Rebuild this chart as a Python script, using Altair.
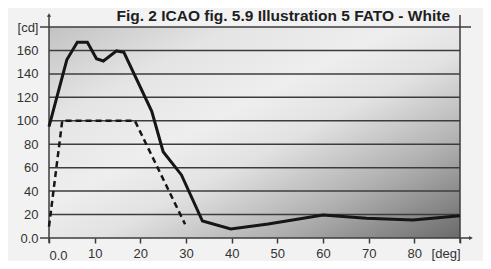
import altair as alt
import pandas as pd

# Data
solid_deg = [0, 3.9, 6.2, 8.4, 10.4, 11.9, 14.8, 16.4, 22.5, 25, 29, 33.6, 39.8, 48, 60, 69.5, 79.7, 90]
solid_cd = [95, 152, 167, 167, 153, 151, 159.6, 158.4, 108, 73.6, 53.8, 14.5, 7.7, 12, 19.6, 16.8, 15.4, 19]
dash_deg = [0, 2.9, 18.8, 29.8]
dash_cd = [9.7, 100, 100, 11.7]
x_ticks = [0, 10, 20, 30, 40, 50, 60, 70, 80, 90]
y_ticks = [0, 20, 40, 60, 80, 100, 120, 140, 160, 180]
title_text = "Fig. 2 ICAO fig. 5.9 Illustration 5 FATO - White"

W, H = 411, 211
FONT = "Liberation Sans"

solid_df = pd.DataFrame({"deg": solid_deg, "cd": solid_cd, "order": range(len(solid_deg))})
dash_df = pd.DataFrame({"deg": dash_deg, "cd": dash_cd, "order": range(len(dash_deg))})
grid_df = pd.DataFrame({"cd": y_ticks[1:-1]})
frame_df = pd.DataFrame({"cd": [0, 180]})
one = pd.DataFrame({"a": [0]})

xscale = alt.Scale(domain=[0, 90], nice=False, zero=False)
yscale = alt.Scale(domain=[0, 180], nice=False)

bg = alt.Chart(one).mark_rect(
    fill=alt.LinearGradient(
        gradient="linear",
        stops=[
            alt.GradientStop(color="#c2c2c2", offset=0),
            alt.GradientStop(color="#e4e4e4", offset=0.22),
            alt.GradientStop(color="#eeeeee", offset=0.42),
            alt.GradientStop(color="#e2e2e2", offset=0.56),
            alt.GradientStop(color="#b2b2b2", offset=0.76),
            alt.GradientStop(color="#6a6a6a", offset=1),
        ],
        x1=0, y1=0, x2=1, y2=1,
    )
).encode(x=alt.value(0), x2=alt.value(W), y=alt.value(0), y2=alt.value(H))

y_axis = alt.Axis(values=y_ticks, domain=False, ticks=False, grid=False, labelOverlap=False,
                  labelPadding=11, labelFontSize=13, labelFont=FONT, labelColor="#333",
                  labelExpr="datum.value == 180 ? '[cd]' : (datum.value == 0 ? '0.0' : datum.label)",
                  title=None)
x_axis = alt.Axis(values=x_ticks, domain=False, ticks=True, tickSize=5, tickColor="#3c3c3c",
                  tickWidth=1.5, grid=False, labelOverlap=False,
                  labelPadding={"condition": {"test": "datum.value == 0", "value": 6}, "value": 4},
                  labelFontSize=13, labelFont=FONT, labelColor="#333",
                  labelExpr="datum.value == 90 ? '[deg]' : (datum.value == 0 ? '0.0' : datum.label)",
                  title=None)

grid = alt.Chart(grid_df).mark_rule(color="#3c3c3c", strokeWidth=1.5).encode(
    y=alt.Y("cd:Q", scale=yscale, axis=y_axis),
    x=alt.value(0), x2=alt.value(W),
)

frame = alt.Chart(frame_df).mark_rule(color="#3c3c3c", strokeWidth=1.5).encode(
    y=alt.Y("cd:Q", scale=yscale, axis=y_axis),
    x=alt.value(-9), x2=alt.value(W + 11),
)

vlines = alt.Chart(pd.DataFrame({"deg": [0, 90]})).mark_rule(color="#3c3c3c", strokeWidth=1.5).encode(
    x=alt.X("deg:Q", scale=xscale, axis=x_axis),
    y=alt.value(-12), y2=alt.value(H + 5),
)

arrow_up = alt.Chart(one).mark_point(
    filled=True, color="#3c3c3c", size=18, opacity=1, shape="triangle-up"
).encode(x=alt.value(0), y=alt.value(-12))
arrow_right = alt.Chart(one).mark_point(
    filled=True, color="#3c3c3c", size=18, opacity=1, shape="triangle-right"
).encode(x=alt.value(W + 11), y=alt.value(H))

solid = alt.Chart(solid_df).mark_line(color="#161616", strokeWidth=3, strokeJoin="miter").encode(
    x=alt.X("deg:Q", scale=xscale, axis=x_axis), y=alt.Y("cd:Q", scale=yscale, axis=y_axis), order="order:Q"
)
dashed = alt.Chart(dash_df).mark_line(color="#161616", strokeWidth=2.5, strokeDash=[6, 4]).encode(
    x=alt.X("deg:Q", scale=xscale, axis=x_axis), y=alt.Y("cd:Q", scale=yscale, axis=y_axis), order="order:Q"
)

title = alt.Chart(pd.DataFrame({"t": [title_text]})).mark_text(
    align="right", baseline="top", fontSize=15.5, fontWeight="bold", font=FONT, color="#1e1e1e"
).encode(text="t:N", x=alt.value(W - 10), y=alt.value(-18))

chart = alt.layer(bg, grid, frame, vlines, arrow_up, arrow_right, dashed, solid, title).properties(
    width=W, height=H, background="#f2f2f2",
    autosize=alt.AutoSizeParams(type="none"),
    padding={"left": 41, "top": 19, "right": 23, "bottom": 23},
).configure_view(stroke=None)

chart.save("out.html", embed_options={"renderer": "svg", "actions": False})
